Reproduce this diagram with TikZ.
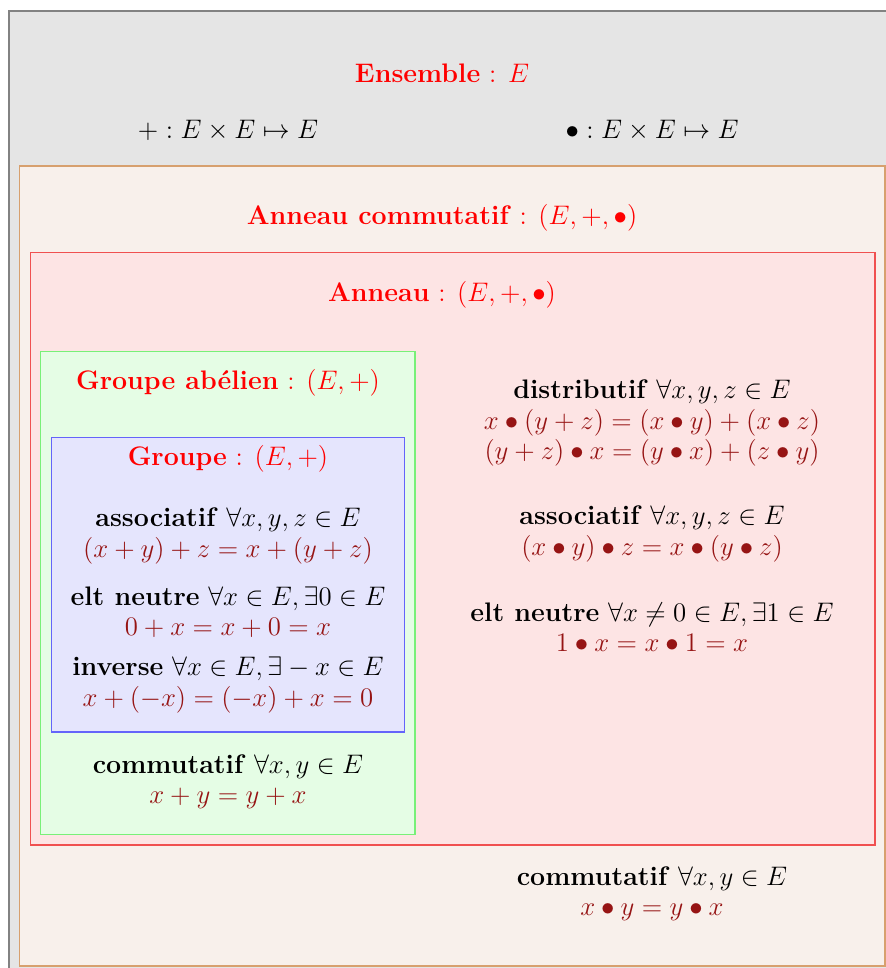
\RequirePackage{fix-cm}
\documentclass[tikz,border=0pt]{standalone}
\usepackage{amsmath,amssymb}
\definecolor{titlered}{RGB}{255,0,0}
\definecolor{eqred}{RGB}{150,20,20}
\definecolor{grayfill}{RGB}{229,229,229}
\definecolor{grayline}{RGB}{130,130,130}
\definecolor{orfill}{RGB}{248,240,235}
\definecolor{orline}{RGB}{215,160,110}
\definecolor{redfill}{RGB}{253,228,228}
\definecolor{redline}{RGB}{240,80,80}
\definecolor{grfill}{RGB}{229,253,229}
\definecolor{grline}{RGB}{120,240,120}
\definecolor{blfill}{RGB}{229,229,253}
\definecolor{blline}{RGB}{100,100,250}
\tikzset{
  txt/.style={align=center, inner sep=0pt, font=\fontsize{13.4}{15.1}\selectfont},
  ttl/.style={txt, text=titlered},
  setbox/.style={line width=0.6pt},
}
\newcommand{\eq}[1]{\textcolor{eqred}{$#1$}}
\begin{document}
\begin{tikzpicture}[x=0.5pt,y=-0.5pt]
\useasboundingbox (0,0) rectangle (886,968);
% boxes
\draw[setbox, fill=grayfill, draw=grayline, line width=0.8pt] (9,11) rectangle (900,990);
\draw[setbox, fill=orfill, draw=orline] (19.5,166) rectangle (885,966);
\draw[setbox, fill=redfill, draw=redline] (30.5,252.5) rectangle (875,845);
\draw[setbox, fill=grfill, draw=grline] (40.5,351.5) rectangle (415,834.5);
\draw[setbox, fill=blfill, draw=blline] (51.5,437.5) rectangle (404.5,732);
% Ensemble
\node[ttl] (ens) at (442,73) {\textbf{Ensemble} : $E$};
\node[txt] (plus) at (228,130) {$+ : E\times E\mapsto E$};
\node[txt] (dot) at (652,130) {$\bullet : E\times E\mapsto E$};
% Anneau commutatif
\node[ttl] (ac) at (442,218) {\textbf{Anneau commutatif} : $(E,+,\bullet)$};
\node[txt] (accom) at (652,894) {\textbf{commutatif} $\forall x,y\in E$\\ \eq{x\bullet y=y\bullet x}};
% Anneau
\node[ttl] (an) at (442,295) {\textbf{Anneau} : $(E,+,\bullet)$};
\node[txt] (dist) at (652,423) {\textbf{distributif} $\forall x,y,z\in E$\\ \eq{x\bullet(y+z)=(x\bullet y)+(x\bullet z)}\\ \eq{(y+z)\bullet x=(y\bullet x)+(z\bullet y)}};
\node[txt] (mass) at (652,534) {\textbf{associatif} $\forall x,y,z\in E$\\ \eq{(x\bullet y)\bullet z=x\bullet(y\bullet z)}};
\node[txt] (mneu) at (652,627) {\textbf{elt neutre} $\forall x\neq 0\in E,\exists 1\in E$\\ \eq{1\bullet x=x\bullet 1=x}};
% Groupe abelien
\node[ttl] (ga) at (228,383) {\textbf{Groupe abélien} : $(E,+)$};
\node[txt] (gcom) at (228,782) {\textbf{commutatif} $\forall x,y\in E$\\ \eq{x+y=y+x}};
% Groupe
\node[ttl] (g) at (228,459) {\textbf{Groupe} : $(E,+)$};
\node[txt] (gass) at (228,536) {\textbf{associatif} $\forall x,y,z\in E$\\ \eq{(x+y)+z=x+(y+z)}};
\node[txt] (gneu) at (228,612) {\textbf{elt neutre} $\forall x\in E,\exists 0\in E$\\ \eq{0+x=x+0=x}};
\node[txt] (ginv) at (228,685) {\textbf{inverse} $\forall x\in E,\exists -x\in E$\\ \eq{x+(-x)=(-x)+x=0}};
\end{tikzpicture}
\end{document}
